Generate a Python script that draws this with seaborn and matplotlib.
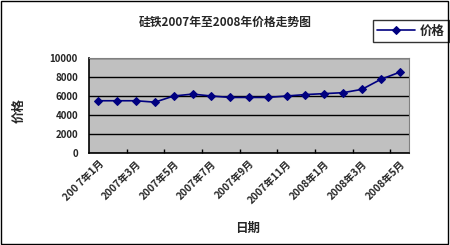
import matplotlib
matplotlib.use("Agg")
import matplotlib.pyplot as plt
import matplotlib.transforms as mtransforms
import seaborn as sns
import pandas as pd
import numpy as np

months = ["2007年1月", "2007年2月", "2007年3月", "2007年4月", "2007年5月", "2007年6月",
          "2007年7月", "2007年8月", "2007年9月", "2007年10月", "2007年11月", "2007年12月",
          "2008年1月", "2008年2月", "2008年3月", "2008年4月", "2008年5月"]
prices = [5500, 5500, 5500, 5350, 6000, 6200, 6000, 5850, 5850, 5850, 6000, 6150,
          6250, 6350, 6700, 7750, 8500]
tick_labels = ["200 7年1月", "2007年3月", "2007年5月", "2007年7月", "2007年9月",
               "2007年11月", "2008年1月", "2008年3月", "2008年5月"]
title = "硅铁2007年至2008年价格走势图"
series_name = "价格"

sns.set_theme(style="white")
plt.rcParams['font.family'] = ['Noto Sans CJK SC', 'DejaVu Sans']

df = pd.DataFrame({"idx": np.arange(len(months)), "price": prices, "series": series_name})

fig = plt.figure(figsize=(4.5, 2.45), dpi=100)
fig.patch.set_facecolor("white")
ax = fig.add_axes([89/450, 1-153/245, (409-89)/450, (153-58)/245])
ax.set_facecolor("#C0C0C0")

sns.lineplot(data=df, x="idx", y="price", hue="series", palette=["#000080"],
             marker="D", markersize=4.5, markeredgecolor="#000080", linewidth=1.2,
             ax=ax, legend=True)

ax.set_xlim(-0.5, len(months) - 0.5)
ax.set_ylim(0, 10000)
ax.set_yticks(np.arange(0, 10001, 2000))
ax.set_yticklabels([str(v) for v in range(0, 10001, 2000)], fontsize=7, fontweight="bold")
ax.yaxis.grid(True, color="black", linewidth=1)
ax.xaxis.grid(False)
ax.set_axisbelow(True)

ax.set_xticks(np.arange(0, len(months), 2))
ax.set_xticklabels(tick_labels, rotation=45, ha="right", rotation_mode="anchor",
                   fontsize=7.3, fontweight="bold")
offset = mtransforms.ScaledTranslation(-10/100, -10/100, fig.dpi_scale_trans)
for lab in ax.get_xticklabels():
    lab.set_transform(lab.get_transform() + offset)
ax.set_xticks(np.arange(1.5, len(months) - 1, 2), minor=True)
ax.tick_params(axis="x", which="major", length=0, pad=4)
ax.tick_params(axis="x", which="minor", direction="in", length=3, color="black", width=1, bottom=True)
ax.tick_params(axis="y", which="major", length=0, pad=8)

for s in ["left", "bottom"]:
    ax.spines[s].set_color("black")
    ax.spines[s].set_linewidth(1.2)
for s in ["top", "right"]:
    ax.spines[s].set_color("#808080")
    ax.spines[s].set_linewidth(0.8)

ax.set_xlabel("日期", fontsize=9, fontweight="bold")
ax.set_ylabel("价格", fontsize=9, fontweight="bold")
ax.xaxis.set_label_coords((248-89)/320, -(222-153)/95)
ax.yaxis.set_label_coords(-(89-26)/320, 0.45)

fig.text(225/450, 1-22/245, title, ha="center", va="center", fontsize=8.5, fontweight="bold")

leg = ax.legend(loc="upper left", bbox_to_anchor=(373/450, 1-20/245), bbox_transform=fig.transFigure,
                frameon=True, fancybox=False, fontsize=9, handlelength=3.0,
                borderpad=0.35, handletextpad=0.4, borderaxespad=0)
for t in leg.get_texts():
    t.set_fontweight("bold")
leg.get_frame().set_edgecolor("black")
leg.get_frame().set_linewidth(1)

border = plt.Rectangle((0.002, 0.004), 0.994, 0.992, transform=fig.transFigure,
                       fill=False, edgecolor="black", linewidth=1)
fig.patches.append(border)

fig.savefig("out.png", dpi=100)
